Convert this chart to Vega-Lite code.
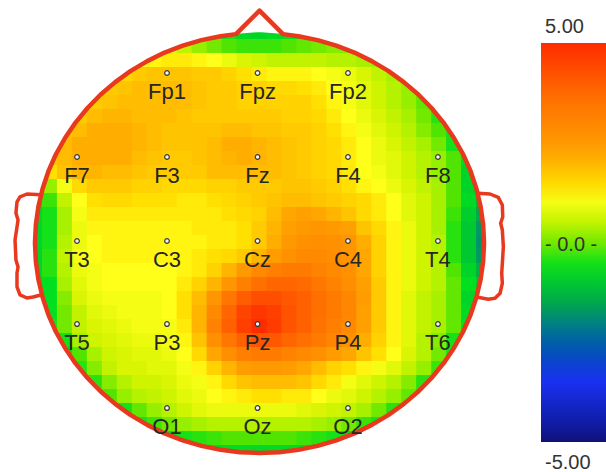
{
"$schema": "https://vega.github.io/schema/vega-lite/v6.json",
"width": 606, "height": 472, "padding": 0, "autosize": {"type": "none"},
"background": "white",
"config": {"view": {"stroke": null}},
"datasets": {
"cells": [
{"x":-3,"y":15,"v":-0.3},{"x":-2,"y":15,"v":-0.5},{"x":-1,"y":15,"v":-0.7},{"x":0,"y":15,"v":-0.8},{"x":1,"y":15,"v":-0.7},{"x":2,"y":15,"v":-0.6},{"x":3,"y":15,"v":-0.5},
{"x":-6,"y":14,"v":0.8},{"x":-5,"y":14,"v":0.5},{"x":-4,"y":14,"v":0.2},{"x":-3,"y":14,"v":0.0},{"x":-2,"y":14,"v":-0.2},{"x":-1,"y":14,"v":-0.3},{"x":0,"y":14,"v":-0.3},{"x":1,"y":14,"v":-0.3},{"x":2,"y":14,"v":-0.2},{"x":3,"y":14,"v":-0.1},{"x":4,"y":14,"v":0.0},{"x":5,"y":14,"v":0.1},{"x":6,"y":14,"v":0.1},
{"x":-8,"y":13,"v":1.0},{"x":-7,"y":13,"v":1.2},{"x":-6,"y":13,"v":1.3},{"x":-5,"y":13,"v":1.3},{"x":-4,"y":13,"v":1.2},{"x":-3,"y":13,"v":1.1},{"x":-2,"y":13,"v":0.9},{"x":-1,"y":13,"v":0.7},{"x":0,"y":13,"v":0.6},{"x":1,"y":13,"v":0.5},{"x":2,"y":13,"v":0.5},{"x":3,"y":13,"v":0.5},{"x":4,"y":13,"v":0.5},{"x":5,"y":13,"v":0.4},{"x":6,"y":13,"v":0.4},{"x":7,"y":13,"v":0.3},{"x":8,"y":13,"v":0.2},
{"x":-9,"y":12,"v":1.5},{"x":-8,"y":12,"v":1.7},{"x":-7,"y":12,"v":1.8},{"x":-6,"y":12,"v":1.8},{"x":-5,"y":12,"v":1.8},{"x":-4,"y":12,"v":1.7},{"x":-3,"y":12,"v":1.7},{"x":-2,"y":12,"v":1.6},{"x":-1,"y":12,"v":1.4},{"x":0,"y":12,"v":1.3},{"x":1,"y":12,"v":1.2},{"x":2,"y":12,"v":1.2},{"x":3,"y":12,"v":1.2},{"x":4,"y":12,"v":1.1},{"x":5,"y":12,"v":1.0},{"x":6,"y":12,"v":0.9},{"x":7,"y":12,"v":0.7},{"x":8,"y":12,"v":0.5},{"x":9,"y":12,"v":0.3},
{"x":-11,"y":11,"v":1.5},{"x":-10,"y":11,"v":1.7},{"x":-9,"y":11,"v":1.8},{"x":-8,"y":11,"v":1.9},{"x":-7,"y":11,"v":1.9},{"x":-6,"y":11,"v":1.9},{"x":-5,"y":11,"v":1.9},{"x":-4,"y":11,"v":1.8},{"x":-3,"y":11,"v":1.7},{"x":-2,"y":11,"v":1.7},{"x":-1,"y":11,"v":1.6},{"x":0,"y":11,"v":1.6},{"x":1,"y":11,"v":1.5},{"x":2,"y":11,"v":1.5},{"x":3,"y":11,"v":1.4},{"x":4,"y":11,"v":1.3},{"x":5,"y":11,"v":1.1},{"x":6,"y":11,"v":1.0},{"x":7,"y":11,"v":0.8},{"x":8,"y":11,"v":0.6},{"x":9,"y":11,"v":0.4},{"x":10,"y":11,"v":0.2},{"x":11,"y":11,"v":0.0},
{"x":-11,"y":10,"v":1.7},{"x":-10,"y":10,"v":1.8},{"x":-9,"y":10,"v":1.9},{"x":-8,"y":10,"v":1.9},{"x":-7,"y":10,"v":1.9},{"x":-6,"y":10,"v":1.9},{"x":-5,"y":10,"v":1.9},{"x":-4,"y":10,"v":1.8},{"x":-3,"y":10,"v":1.7},{"x":-2,"y":10,"v":1.7},{"x":-1,"y":10,"v":1.6},{"x":0,"y":10,"v":1.6},{"x":1,"y":10,"v":1.6},{"x":2,"y":10,"v":1.6},{"x":3,"y":10,"v":1.6},{"x":4,"y":10,"v":1.4},{"x":5,"y":10,"v":1.2},{"x":6,"y":10,"v":1.0},{"x":7,"y":10,"v":0.8},{"x":8,"y":10,"v":0.6},{"x":9,"y":10,"v":0.4},{"x":10,"y":10,"v":0.2},{"x":11,"y":10,"v":-0.1},
{"x":-12,"y":9,"v":1.7},{"x":-11,"y":9,"v":1.9},{"x":-10,"y":9,"v":2.0},{"x":-9,"y":9,"v":2.0},{"x":-8,"y":9,"v":1.9},{"x":-7,"y":9,"v":1.9},{"x":-6,"y":9,"v":1.9},{"x":-5,"y":9,"v":1.8},{"x":-4,"y":9,"v":1.7},{"x":-3,"y":9,"v":1.7},{"x":-2,"y":9,"v":1.7},{"x":-1,"y":9,"v":1.7},{"x":0,"y":9,"v":1.7},{"x":1,"y":9,"v":1.7},{"x":2,"y":9,"v":1.6},{"x":3,"y":9,"v":1.6},{"x":4,"y":9,"v":1.5},{"x":5,"y":9,"v":1.3},{"x":6,"y":9,"v":1.1},{"x":7,"y":9,"v":0.9},{"x":8,"y":9,"v":0.7},{"x":9,"y":9,"v":0.5},{"x":10,"y":9,"v":0.3},{"x":11,"y":9,"v":0.0},{"x":12,"y":9,"v":-0.4},
{"x":-13,"y":8,"v":1.8},{"x":-12,"y":8,"v":1.9},{"x":-11,"y":8,"v":2.1},{"x":-10,"y":8,"v":2.1},{"x":-9,"y":8,"v":2.1},{"x":-8,"y":8,"v":2.0},{"x":-7,"y":8,"v":1.9},{"x":-6,"y":8,"v":1.8},{"x":-5,"y":8,"v":1.8},{"x":-4,"y":8,"v":1.8},{"x":-3,"y":8,"v":1.8},{"x":-2,"y":8,"v":1.9},{"x":-1,"y":8,"v":1.9},{"x":0,"y":8,"v":1.8},{"x":1,"y":8,"v":1.8},{"x":2,"y":8,"v":1.7},{"x":3,"y":8,"v":1.7},{"x":4,"y":8,"v":1.6},{"x":5,"y":8,"v":1.4},{"x":6,"y":8,"v":1.2},{"x":7,"y":8,"v":1.0},{"x":8,"y":8,"v":0.8},{"x":9,"y":8,"v":0.6},{"x":10,"y":8,"v":0.4},{"x":11,"y":8,"v":0.1},{"x":12,"y":8,"v":-0.2},{"x":13,"y":8,"v":-0.5},
{"x":-13,"y":7,"v":1.9},{"x":-12,"y":7,"v":2.1},{"x":-11,"y":7,"v":2.1},{"x":-10,"y":7,"v":2.1},{"x":-9,"y":7,"v":2.1},{"x":-8,"y":7,"v":2.0},{"x":-7,"y":7,"v":1.9},{"x":-6,"y":7,"v":1.8},{"x":-5,"y":7,"v":1.8},{"x":-4,"y":7,"v":1.8},{"x":-3,"y":7,"v":1.9},{"x":-2,"y":7,"v":2.1},{"x":-1,"y":7,"v":2.1},{"x":0,"y":7,"v":2.0},{"x":1,"y":7,"v":1.9},{"x":2,"y":7,"v":1.8},{"x":3,"y":7,"v":1.7},{"x":4,"y":7,"v":1.6},{"x":5,"y":7,"v":1.5},{"x":6,"y":7,"v":1.3},{"x":7,"y":7,"v":1.1},{"x":8,"y":7,"v":0.9},{"x":9,"y":7,"v":0.7},{"x":10,"y":7,"v":0.5},{"x":11,"y":7,"v":0.3},{"x":12,"y":7,"v":0.0},{"x":13,"y":7,"v":-0.5},
{"x":-14,"y":6,"v":1.7},{"x":-13,"y":6,"v":1.9},{"x":-12,"y":6,"v":2.1},{"x":-11,"y":6,"v":2.1},{"x":-10,"y":6,"v":2.1},{"x":-9,"y":6,"v":2.1},{"x":-8,"y":6,"v":1.9},{"x":-7,"y":6,"v":1.8},{"x":-6,"y":6,"v":1.7},{"x":-5,"y":6,"v":1.7},{"x":-4,"y":6,"v":1.8},{"x":-3,"y":6,"v":1.9},{"x":-2,"y":6,"v":2.0},{"x":-1,"y":6,"v":2.1},{"x":0,"y":6,"v":2.0},{"x":1,"y":6,"v":1.9},{"x":2,"y":6,"v":1.8},{"x":3,"y":6,"v":1.7},{"x":4,"y":6,"v":1.6},{"x":5,"y":6,"v":1.5},{"x":6,"y":6,"v":1.3},{"x":7,"y":6,"v":1.1},{"x":8,"y":6,"v":0.9},{"x":9,"y":6,"v":0.8},{"x":10,"y":6,"v":0.6},{"x":11,"y":6,"v":0.4},{"x":12,"y":6,"v":0.2},{"x":13,"y":6,"v":-0.2},{"x":14,"y":6,"v":-0.7},
{"x":-14,"y":5,"v":1.4},{"x":-13,"y":5,"v":1.8},{"x":-12,"y":5,"v":2.0},{"x":-11,"y":5,"v":2.0},{"x":-10,"y":5,"v":1.9},{"x":-9,"y":5,"v":1.9},{"x":-8,"y":5,"v":1.8},{"x":-7,"y":5,"v":1.7},{"x":-6,"y":5,"v":1.7},{"x":-5,"y":5,"v":1.7},{"x":-4,"y":5,"v":1.7},{"x":-3,"y":5,"v":1.9},{"x":-2,"y":5,"v":1.9},{"x":-1,"y":5,"v":1.9},{"x":0,"y":5,"v":1.9},{"x":1,"y":5,"v":1.9},{"x":2,"y":5,"v":1.8},{"x":3,"y":5,"v":1.7},{"x":4,"y":5,"v":1.6},{"x":5,"y":5,"v":1.5},{"x":6,"y":5,"v":1.3},{"x":7,"y":5,"v":1.1},{"x":8,"y":5,"v":1.0},{"x":9,"y":5,"v":0.8},{"x":10,"y":5,"v":0.6},{"x":11,"y":5,"v":0.4},{"x":12,"y":5,"v":0.2},{"x":13,"y":5,"v":-0.2},{"x":14,"y":5,"v":-0.8},
{"x":-14,"y":4,"v":0.2},{"x":-13,"y":4,"v":1.0},{"x":-12,"y":4,"v":1.5},{"x":-11,"y":4,"v":1.7},{"x":-10,"y":4,"v":1.7},{"x":-9,"y":4,"v":1.7},{"x":-8,"y":4,"v":1.6},{"x":-7,"y":4,"v":1.6},{"x":-6,"y":4,"v":1.5},{"x":-5,"y":4,"v":1.5},{"x":-4,"y":4,"v":1.5},{"x":-3,"y":4,"v":1.6},{"x":-2,"y":4,"v":1.6},{"x":-1,"y":4,"v":1.7},{"x":0,"y":4,"v":1.7},{"x":1,"y":4,"v":1.7},{"x":2,"y":4,"v":1.8},{"x":3,"y":4,"v":1.8},{"x":4,"y":4,"v":1.7},{"x":5,"y":4,"v":1.6},{"x":6,"y":4,"v":1.4},{"x":7,"y":4,"v":1.2},{"x":8,"y":4,"v":1.1},{"x":9,"y":4,"v":0.9},{"x":10,"y":4,"v":0.7},{"x":11,"y":4,"v":0.5},{"x":12,"y":4,"v":0.3},{"x":13,"y":4,"v":-0.2},{"x":14,"y":4,"v":-0.8},
{"x":-15,"y":3,"v":-0.7},{"x":-14,"y":3,"v":-0.3},{"x":-13,"y":3,"v":0.5},{"x":-12,"y":3,"v":1.1},{"x":-11,"y":3,"v":1.4},{"x":-10,"y":3,"v":1.5},{"x":-9,"y":3,"v":1.5},{"x":-8,"y":3,"v":1.4},{"x":-7,"y":3,"v":1.4},{"x":-6,"y":3,"v":1.4},{"x":-5,"y":3,"v":1.3},{"x":-4,"y":3,"v":1.3},{"x":-3,"y":3,"v":1.4},{"x":-2,"y":3,"v":1.5},{"x":-1,"y":3,"v":1.6},{"x":0,"y":3,"v":1.7},{"x":1,"y":3,"v":1.8},{"x":2,"y":3,"v":1.9},{"x":3,"y":3,"v":1.9},{"x":4,"y":3,"v":1.8},{"x":5,"y":3,"v":1.7},{"x":6,"y":3,"v":1.6},{"x":7,"y":3,"v":1.5},{"x":8,"y":3,"v":1.3},{"x":9,"y":3,"v":1.1},{"x":10,"y":3,"v":0.8},{"x":11,"y":3,"v":0.6},{"x":12,"y":3,"v":0.3},{"x":13,"y":3,"v":-0.2},{"x":14,"y":3,"v":-0.7},{"x":15,"y":3,"v":-1.3},
{"x":-15,"y":2,"v":-0.8},{"x":-14,"y":2,"v":-0.5},{"x":-13,"y":2,"v":0.3},{"x":-12,"y":2,"v":1.0},{"x":-11,"y":2,"v":1.3},{"x":-10,"y":2,"v":1.3},{"x":-9,"y":2,"v":1.3},{"x":-8,"y":2,"v":1.3},{"x":-7,"y":2,"v":1.3},{"x":-6,"y":2,"v":1.3},{"x":-5,"y":2,"v":1.3},{"x":-4,"y":2,"v":1.3},{"x":-3,"y":2,"v":1.3},{"x":-2,"y":2,"v":1.4},{"x":-1,"y":2,"v":1.5},{"x":0,"y":2,"v":1.6},{"x":1,"y":2,"v":1.9},{"x":2,"y":2,"v":2.2},{"x":3,"y":2,"v":2.3},{"x":4,"y":2,"v":2.2},{"x":5,"y":2,"v":2.0},{"x":6,"y":2,"v":1.8},{"x":7,"y":2,"v":1.5},{"x":8,"y":2,"v":1.3},{"x":9,"y":2,"v":1.1},{"x":10,"y":2,"v":0.8},{"x":11,"y":2,"v":0.6},{"x":12,"y":2,"v":0.3},{"x":13,"y":2,"v":-0.3},{"x":14,"y":2,"v":-0.9},{"x":15,"y":2,"v":-1.5},
{"x":-15,"y":1,"v":-0.8},{"x":-14,"y":1,"v":-0.5},{"x":-13,"y":1,"v":0.3},{"x":-12,"y":1,"v":0.9},{"x":-11,"y":1,"v":1.2},{"x":-10,"y":1,"v":1.2},{"x":-9,"y":1,"v":1.2},{"x":-8,"y":1,"v":1.2},{"x":-7,"y":1,"v":1.2},{"x":-6,"y":1,"v":1.2},{"x":-5,"y":1,"v":1.2},{"x":-4,"y":1,"v":1.3},{"x":-3,"y":1,"v":1.3},{"x":-2,"y":1,"v":1.3},{"x":-1,"y":1,"v":1.4},{"x":0,"y":1,"v":1.7},{"x":1,"y":1,"v":2.0},{"x":2,"y":1,"v":2.3},{"x":3,"y":1,"v":2.5},{"x":4,"y":1,"v":2.6},{"x":5,"y":1,"v":2.5},{"x":6,"y":1,"v":2.3},{"x":7,"y":1,"v":1.8},{"x":8,"y":1,"v":1.5},{"x":9,"y":1,"v":1.2},{"x":10,"y":1,"v":0.9},{"x":11,"y":1,"v":0.6},{"x":12,"y":1,"v":0.3},{"x":13,"y":1,"v":-0.4},{"x":14,"y":1,"v":-1.0},{"x":15,"y":1,"v":-1.7},
{"x":-15,"y":0,"v":-0.8},{"x":-14,"y":0,"v":-0.5},{"x":-13,"y":0,"v":0.4},{"x":-12,"y":0,"v":0.9},{"x":-11,"y":0,"v":1.1},{"x":-10,"y":0,"v":1.2},{"x":-9,"y":0,"v":1.2},{"x":-8,"y":0,"v":1.2},{"x":-7,"y":0,"v":1.2},{"x":-6,"y":0,"v":1.2},{"x":-5,"y":0,"v":1.2},{"x":-4,"y":0,"v":1.2},{"x":-3,"y":0,"v":1.3},{"x":-2,"y":0,"v":1.3},{"x":-1,"y":0,"v":1.4},{"x":0,"y":0,"v":1.7},{"x":1,"y":0,"v":2.1},{"x":2,"y":0,"v":2.5},{"x":3,"y":0,"v":2.7},{"x":4,"y":0,"v":2.8},{"x":5,"y":0,"v":2.7},{"x":6,"y":0,"v":2.6},{"x":7,"y":0,"v":2.1},{"x":8,"y":0,"v":1.6},{"x":9,"y":0,"v":1.2},{"x":10,"y":0,"v":0.9},{"x":11,"y":0,"v":0.6},{"x":12,"y":0,"v":0.4},{"x":13,"y":0,"v":-0.4},{"x":14,"y":0,"v":-1.0},{"x":15,"y":0,"v":-1.8},
{"x":-15,"y":-1,"v":-0.8},{"x":-14,"y":-1,"v":-0.4},{"x":-13,"y":-1,"v":0.5},{"x":-12,"y":-1,"v":1.0},{"x":-11,"y":-1,"v":1.1},{"x":-10,"y":-1,"v":1.2},{"x":-9,"y":-1,"v":1.2},{"x":-8,"y":-1,"v":1.2},{"x":-7,"y":-1,"v":1.2},{"x":-6,"y":-1,"v":1.2},{"x":-5,"y":-1,"v":1.2},{"x":-4,"y":-1,"v":1.3},{"x":-3,"y":-1,"v":1.4},{"x":-2,"y":-1,"v":1.5},{"x":-1,"y":-1,"v":1.7},{"x":0,"y":-1,"v":2.0},{"x":1,"y":-1,"v":2.4},{"x":2,"y":-1,"v":2.7},{"x":3,"y":-1,"v":2.9},{"x":4,"y":-1,"v":2.9},{"x":5,"y":-1,"v":2.8},{"x":6,"y":-1,"v":2.6},{"x":7,"y":-1,"v":2.2},{"x":8,"y":-1,"v":1.6},{"x":9,"y":-1,"v":1.2},{"x":10,"y":-1,"v":0.9},{"x":11,"y":-1,"v":0.6},{"x":12,"y":-1,"v":0.4},{"x":13,"y":-1,"v":-0.4},{"x":14,"y":-1,"v":-1.0},{"x":15,"y":-1,"v":-1.7},
{"x":-15,"y":-2,"v":-0.8},{"x":-14,"y":-2,"v":-0.4},{"x":-13,"y":-2,"v":0.4},{"x":-12,"y":-2,"v":0.9},{"x":-11,"y":-2,"v":1.0},{"x":-10,"y":-2,"v":1.1},{"x":-9,"y":-2,"v":1.1},{"x":-8,"y":-2,"v":1.1},{"x":-7,"y":-2,"v":1.1},{"x":-6,"y":-2,"v":1.1},{"x":-5,"y":-2,"v":1.2},{"x":-4,"y":-2,"v":1.3},{"x":-3,"y":-2,"v":1.6},{"x":-2,"y":-2,"v":2.0},{"x":-1,"y":-2,"v":2.5},{"x":0,"y":-2,"v":2.9},{"x":1,"y":-2,"v":3.2},{"x":2,"y":-2,"v":3.3},{"x":3,"y":-2,"v":3.3},{"x":4,"y":-2,"v":3.1},{"x":5,"y":-2,"v":2.9},{"x":6,"y":-2,"v":2.7},{"x":7,"y":-2,"v":2.2},{"x":8,"y":-2,"v":1.6},{"x":9,"y":-2,"v":1.2},{"x":10,"y":-2,"v":0.9},{"x":11,"y":-2,"v":0.6},{"x":12,"y":-2,"v":0.4},{"x":13,"y":-2,"v":-0.2},{"x":14,"y":-2,"v":-0.8},{"x":15,"y":-2,"v":-1.4},
{"x":-15,"y":-3,"v":-0.8},{"x":-14,"y":-3,"v":-0.6},{"x":-13,"y":-3,"v":0.3},{"x":-12,"y":-3,"v":0.8},{"x":-11,"y":-3,"v":1.0},{"x":-10,"y":-3,"v":1.1},{"x":-9,"y":-3,"v":1.1},{"x":-8,"y":-3,"v":1.1},{"x":-7,"y":-3,"v":1.1},{"x":-6,"y":-3,"v":1.1},{"x":-5,"y":-3,"v":1.3},{"x":-4,"y":-3,"v":1.6},{"x":-3,"y":-3,"v":2.0},{"x":-2,"y":-3,"v":2.6},{"x":-1,"y":-3,"v":3.2},{"x":0,"y":-3,"v":3.6},{"x":1,"y":-3,"v":3.8},{"x":2,"y":-3,"v":3.8},{"x":3,"y":-3,"v":3.7},{"x":4,"y":-3,"v":3.4},{"x":5,"y":-3,"v":3.1},{"x":6,"y":-3,"v":2.8},{"x":7,"y":-3,"v":2.3},{"x":8,"y":-3,"v":1.7},{"x":9,"y":-3,"v":1.2},{"x":10,"y":-3,"v":0.9},{"x":11,"y":-3,"v":0.6},{"x":12,"y":-3,"v":0.4},{"x":13,"y":-3,"v":-0.1},{"x":14,"y":-3,"v":-0.6},{"x":15,"y":-3,"v":-1.1},
{"x":-14,"y":-4,"v":-0.6},{"x":-13,"y":-4,"v":0.1},{"x":-12,"y":-4,"v":0.7},{"x":-11,"y":-4,"v":0.9},{"x":-10,"y":-4,"v":1.0},{"x":-9,"y":-4,"v":1.0},{"x":-8,"y":-4,"v":1.0},{"x":-7,"y":-4,"v":1.0},{"x":-6,"y":-4,"v":1.1},{"x":-5,"y":-4,"v":1.4},{"x":-4,"y":-4,"v":1.9},{"x":-3,"y":-4,"v":2.6},{"x":-2,"y":-4,"v":3.4},{"x":-1,"y":-4,"v":4.0},{"x":0,"y":-4,"v":4.3},{"x":1,"y":-4,"v":4.3},{"x":2,"y":-4,"v":4.1},{"x":3,"y":-4,"v":3.9},{"x":4,"y":-4,"v":3.6},{"x":5,"y":-4,"v":3.3},{"x":6,"y":-4,"v":3.0},{"x":7,"y":-4,"v":2.4},{"x":8,"y":-4,"v":1.7},{"x":9,"y":-4,"v":1.2},{"x":10,"y":-4,"v":0.8},{"x":11,"y":-4,"v":0.5},{"x":12,"y":-4,"v":0.3},{"x":13,"y":-4,"v":-0.1},{"x":14,"y":-4,"v":-0.8},
{"x":-14,"y":-5,"v":-0.6},{"x":-13,"y":-5,"v":0.0},{"x":-12,"y":-5,"v":0.5},{"x":-11,"y":-5,"v":0.8},{"x":-10,"y":-5,"v":0.9},{"x":-9,"y":-5,"v":1.0},{"x":-8,"y":-5,"v":1.0},{"x":-7,"y":-5,"v":1.0},{"x":-6,"y":-5,"v":1.1},{"x":-5,"y":-5,"v":1.4},{"x":-4,"y":-5,"v":2.0},{"x":-3,"y":-5,"v":2.9},{"x":-2,"y":-5,"v":3.8},{"x":-1,"y":-5,"v":4.5},{"x":0,"y":-5,"v":4.8},{"x":1,"y":-5,"v":4.6},{"x":2,"y":-5,"v":4.2},{"x":3,"y":-5,"v":3.9},{"x":4,"y":-5,"v":3.6},{"x":5,"y":-5,"v":3.3},{"x":6,"y":-5,"v":3.0},{"x":7,"y":-5,"v":2.3},{"x":8,"y":-5,"v":1.7},{"x":9,"y":-5,"v":1.2},{"x":10,"y":-5,"v":0.8},{"x":11,"y":-5,"v":0.5},{"x":12,"y":-5,"v":0.3},{"x":13,"y":-5,"v":-0.1},{"x":14,"y":-5,"v":-0.7},
{"x":-14,"y":-6,"v":-0.5},{"x":-13,"y":-6,"v":0.0},{"x":-12,"y":-6,"v":0.5},{"x":-11,"y":-6,"v":0.7},{"x":-10,"y":-6,"v":0.8},{"x":-9,"y":-6,"v":0.9},{"x":-8,"y":-6,"v":1.0},{"x":-7,"y":-6,"v":1.0},{"x":-6,"y":-6,"v":1.0},{"x":-5,"y":-6,"v":1.3},{"x":-4,"y":-6,"v":2.0},{"x":-3,"y":-6,"v":3.1},{"x":-2,"y":-6,"v":3.9},{"x":-1,"y":-6,"v":4.6},{"x":0,"y":-6,"v":5.0},{"x":1,"y":-6,"v":4.7},{"x":2,"y":-6,"v":4.2},{"x":3,"y":-6,"v":3.9},{"x":4,"y":-6,"v":3.5},{"x":5,"y":-6,"v":3.2},{"x":6,"y":-6,"v":2.9},{"x":7,"y":-6,"v":2.3},{"x":8,"y":-6,"v":1.7},{"x":9,"y":-6,"v":1.2},{"x":10,"y":-6,"v":0.8},{"x":11,"y":-6,"v":0.5},{"x":12,"y":-6,"v":0.3},{"x":13,"y":-6,"v":-0.1},{"x":14,"y":-6,"v":-0.6},
{"x":-13,"y":-7,"v":-0.5},{"x":-12,"y":-7,"v":0.3},{"x":-11,"y":-7,"v":0.6},{"x":-10,"y":-7,"v":0.7},{"x":-9,"y":-7,"v":0.8},{"x":-8,"y":-7,"v":0.9},{"x":-7,"y":-7,"v":0.9},{"x":-6,"y":-7,"v":1.0},{"x":-5,"y":-7,"v":1.2},{"x":-4,"y":-7,"v":1.8},{"x":-3,"y":-7,"v":2.7},{"x":-2,"y":-7,"v":3.4},{"x":-1,"y":-7,"v":3.9},{"x":0,"y":-7,"v":4.2},{"x":1,"y":-7,"v":4.1},{"x":2,"y":-7,"v":3.8},{"x":3,"y":-7,"v":3.6},{"x":4,"y":-7,"v":3.3},{"x":5,"y":-7,"v":3.0},{"x":6,"y":-7,"v":2.7},{"x":7,"y":-7,"v":2.1},{"x":8,"y":-7,"v":1.6},{"x":9,"y":-7,"v":1.2},{"x":10,"y":-7,"v":0.8},{"x":11,"y":-7,"v":0.4},{"x":12,"y":-7,"v":0.1},{"x":13,"y":-7,"v":-0.5},
{"x":-13,"y":-8,"v":-0.6},{"x":-12,"y":-8,"v":-0.2},{"x":-11,"y":-8,"v":0.3},{"x":-10,"y":-8,"v":0.6},{"x":-9,"y":-8,"v":0.7},{"x":-8,"y":-8,"v":0.8},{"x":-7,"y":-8,"v":0.8},{"x":-6,"y":-8,"v":0.9},{"x":-5,"y":-8,"v":1.1},{"x":-4,"y":-8,"v":1.5},{"x":-3,"y":-8,"v":2.2},{"x":-2,"y":-8,"v":2.8},{"x":-1,"y":-8,"v":3.2},{"x":0,"y":-8,"v":3.3},{"x":1,"y":-8,"v":3.3},{"x":2,"y":-8,"v":3.1},{"x":3,"y":-8,"v":2.9},{"x":4,"y":-8,"v":2.7},{"x":5,"y":-8,"v":2.4},{"x":6,"y":-8,"v":2.2},{"x":7,"y":-8,"v":1.8},{"x":8,"y":-8,"v":1.4},{"x":9,"y":-8,"v":1.1},{"x":10,"y":-8,"v":0.7},{"x":11,"y":-8,"v":0.4},{"x":12,"y":-8,"v":0.0},{"x":13,"y":-8,"v":-0.5},
{"x":-12,"y":-9,"v":-0.4},{"x":-11,"y":-9,"v":0.1},{"x":-10,"y":-9,"v":0.5},{"x":-9,"y":-9,"v":0.7},{"x":-8,"y":-9,"v":0.7},{"x":-7,"y":-9,"v":0.8},{"x":-6,"y":-9,"v":0.8},{"x":-5,"y":-9,"v":1.0},{"x":-4,"y":-9,"v":1.2},{"x":-3,"y":-9,"v":1.6},{"x":-2,"y":-9,"v":2.0},{"x":-1,"y":-9,"v":2.4},{"x":0,"y":-9,"v":2.5},{"x":1,"y":-9,"v":2.5},{"x":2,"y":-9,"v":2.4},{"x":3,"y":-9,"v":2.2},{"x":4,"y":-9,"v":1.9},{"x":5,"y":-9,"v":1.6},{"x":6,"y":-9,"v":1.4},{"x":7,"y":-9,"v":1.2},{"x":8,"y":-9,"v":1.0},{"x":9,"y":-9,"v":0.8},{"x":10,"y":-9,"v":0.5},{"x":11,"y":-9,"v":0.2},{"x":12,"y":-9,"v":-0.3},
{"x":-11,"y":-10,"v":-0.4},{"x":-10,"y":-10,"v":0.1},{"x":-9,"y":-10,"v":0.4},{"x":-8,"y":-10,"v":0.6},{"x":-7,"y":-10,"v":0.6},{"x":-6,"y":-10,"v":0.7},{"x":-5,"y":-10,"v":0.9},{"x":-4,"y":-10,"v":1.0},{"x":-3,"y":-10,"v":1.2},{"x":-2,"y":-10,"v":1.5},{"x":-1,"y":-10,"v":1.8},{"x":0,"y":-10,"v":1.9},{"x":1,"y":-10,"v":1.9},{"x":2,"y":-10,"v":1.9},{"x":3,"y":-10,"v":1.8},{"x":4,"y":-10,"v":1.5},{"x":5,"y":-10,"v":1.3},{"x":6,"y":-10,"v":1.0},{"x":7,"y":-10,"v":0.8},{"x":8,"y":-10,"v":0.6},{"x":9,"y":-10,"v":0.4},{"x":10,"y":-10,"v":0.1},{"x":11,"y":-10,"v":-0.4},
{"x":-11,"y":-11,"v":-0.6},{"x":-10,"y":-11,"v":-0.2},{"x":-9,"y":-11,"v":0.2},{"x":-8,"y":-11,"v":0.4},{"x":-7,"y":-11,"v":0.5},{"x":-6,"y":-11,"v":0.6},{"x":-5,"y":-11,"v":0.8},{"x":-4,"y":-11,"v":0.9},{"x":-3,"y":-11,"v":1.1},{"x":-2,"y":-11,"v":1.2},{"x":-1,"y":-11,"v":1.3},{"x":0,"y":-11,"v":1.4},{"x":1,"y":-11,"v":1.4},{"x":2,"y":-11,"v":1.3},{"x":3,"y":-11,"v":1.3},{"x":4,"y":-11,"v":1.1},{"x":5,"y":-11,"v":0.9},{"x":6,"y":-11,"v":0.8},{"x":7,"y":-11,"v":0.6},{"x":8,"y":-11,"v":0.4},{"x":9,"y":-11,"v":0.2},{"x":10,"y":-11,"v":-0.1},{"x":11,"y":-11,"v":-0.5},
{"x":-9,"y":-12,"v":-0.5},{"x":-8,"y":-12,"v":-0.1},{"x":-7,"y":-12,"v":0.2},{"x":-6,"y":-12,"v":0.4},{"x":-5,"y":-12,"v":0.6},{"x":-4,"y":-12,"v":0.8},{"x":-3,"y":-12,"v":0.9},{"x":-2,"y":-12,"v":0.9},{"x":-1,"y":-12,"v":0.9},{"x":0,"y":-12,"v":0.9},{"x":1,"y":-12,"v":0.9},{"x":2,"y":-12,"v":0.9},{"x":3,"y":-12,"v":0.8},{"x":4,"y":-12,"v":0.7},{"x":5,"y":-12,"v":0.6},{"x":6,"y":-12,"v":0.5},{"x":7,"y":-12,"v":0.3},{"x":8,"y":-12,"v":0.0},{"x":9,"y":-12,"v":-0.4},
{"x":-8,"y":-13,"v":-0.5},{"x":-7,"y":-13,"v":-0.3},{"x":-6,"y":-13,"v":0.0},{"x":-5,"y":-13,"v":0.2},{"x":-4,"y":-13,"v":0.3},{"x":-3,"y":-13,"v":0.4},{"x":-2,"y":-13,"v":0.4},{"x":-1,"y":-13,"v":0.4},{"x":0,"y":-13,"v":0.4},{"x":1,"y":-13,"v":0.4},{"x":2,"y":-13,"v":0.4},{"x":3,"y":-13,"v":0.4},{"x":4,"y":-13,"v":0.3},{"x":5,"y":-13,"v":0.2},{"x":6,"y":-13,"v":0.0},{"x":7,"y":-13,"v":-0.3},{"x":8,"y":-13,"v":-0.5},
{"x":-6,"y":-14,"v":-0.6},{"x":-5,"y":-14,"v":-0.5},{"x":-4,"y":-14,"v":-0.4},{"x":-3,"y":-14,"v":-0.3},{"x":-2,"y":-14,"v":-0.2},{"x":-1,"y":-14,"v":-0.2},{"x":0,"y":-14,"v":-0.2},{"x":1,"y":-14,"v":-0.2},{"x":2,"y":-14,"v":-0.2},{"x":3,"y":-14,"v":-0.3},{"x":4,"y":-14,"v":-0.4},{"x":5,"y":-14,"v":-0.5},{"x":6,"y":-14,"v":-0.6},
{"x":-3,"y":-15,"v":-0.7},{"x":-2,"y":-15,"v":-0.7},{"x":-1,"y":-15,"v":-0.7},{"x":0,"y":-15,"v":-0.7},{"x":1,"y":-15,"v":-0.7},{"x":2,"y":-15,"v":-0.7},{"x":3,"y":-15,"v":-0.7}
],
"mask": [
{"i":0,"x":15.75,"y":0},{"i":1,"x":15.51,"y":2.73},{"i":2,"x":14.8,"y":5.39},{"i":3,"x":13.64,"y":7.88},{"i":4,"x":12.07,"y":10.12},{"i":5,"x":10.12,"y":12.07},{"i":6,"x":7.88,"y":13.64},{"i":7,"x":5.39,"y":14.8},{"i":8,"x":2.73,"y":15.51},{"i":9,"x":0,"y":15.75},{"i":10,"x":-2.73,"y":15.51},{"i":11,"x":-5.39,"y":14.8},{"i":12,"x":-7.88,"y":13.64},{"i":13,"x":-10.12,"y":12.07},{"i":14,"x":-12.07,"y":10.12},{"i":15,"x":-13.64,"y":7.88},{"i":16,"x":-14.8,"y":5.39},{"i":17,"x":-15.51,"y":2.73},{"i":18,"x":-15.75,"y":0},{"i":19,"x":-15.51,"y":-2.73},{"i":20,"x":-14.8,"y":-5.39},{"i":21,"x":-13.64,"y":-7.88},{"i":22,"x":-12.07,"y":-10.12},{"i":23,"x":-10.12,"y":-12.07},{"i":24,"x":-7.88,"y":-13.64},{"i":25,"x":-5.39,"y":-14.8},{"i":26,"x":-2.73,"y":-15.51},{"i":27,"x":0,"y":-15.75},{"i":28,"x":2.73,"y":-15.51},{"i":29,"x":5.39,"y":-14.8},{"i":30,"x":7.88,"y":-13.64},{"i":31,"x":10.12,"y":-12.07},{"i":32,"x":12.07,"y":-10.12},{"i":33,"x":13.64,"y":-7.88},{"i":34,"x":14.8,"y":-5.39},{"i":35,"x":15.51,"y":-2.73},{"i":36,"x":15.75,"y":0}
],
"outline": [
{"i":0,"x":0,"y":16.6},{"i":1,"x":1.57,"y":14.92},{"i":2,"x":2.6,"y":14.77},{"i":3,"x":3.88,"y":14.49},{"i":4,"x":5.13,"y":14.1},{"i":5,"x":6.34,"y":13.6},{"i":6,"x":7.5,"y":12.99},{"i":7,"x":8.6,"y":12.29},{"i":8,"x":9.64,"y":11.49},{"i":9,"x":10.61,"y":10.61},{"i":10,"x":11.49,"y":9.64},{"i":11,"x":12.29,"y":8.6},{"i":12,"x":12.99,"y":7.5},{"i":13,"x":13.6,"y":6.34},{"i":14,"x":14.1,"y":5.13},{"i":15,"x":14.49,"y":3.88},{"i":16,"x":14.77,"y":2.6},{"i":17,"x":14.94,"y":1.31},{"i":18,"x":15,"y":0},{"i":19,"x":14.94,"y":-1.31},{"i":20,"x":14.77,"y":-2.6},{"i":21,"x":14.49,"y":-3.88},{"i":22,"x":14.1,"y":-5.13},{"i":23,"x":13.6,"y":-6.34},{"i":24,"x":12.99,"y":-7.5},{"i":25,"x":12.29,"y":-8.6},{"i":26,"x":11.49,"y":-9.64},{"i":27,"x":10.61,"y":-10.61},{"i":28,"x":9.64,"y":-11.49},{"i":29,"x":8.6,"y":-12.29},{"i":30,"x":7.5,"y":-12.99},{"i":31,"x":6.34,"y":-13.6},{"i":32,"x":5.13,"y":-14.1},{"i":33,"x":3.88,"y":-14.49},{"i":34,"x":2.6,"y":-14.77},{"i":35,"x":1.31,"y":-14.94},{"i":36,"x":0,"y":-15},{"i":37,"x":-1.31,"y":-14.94},{"i":38,"x":-2.6,"y":-14.77},{"i":39,"x":-3.88,"y":-14.49},{"i":40,"x":-5.13,"y":-14.1},{"i":41,"x":-6.34,"y":-13.6},{"i":42,"x":-7.5,"y":-12.99},{"i":43,"x":-8.6,"y":-12.29},{"i":44,"x":-9.64,"y":-11.49},{"i":45,"x":-10.61,"y":-10.61},{"i":46,"x":-11.49,"y":-9.64},{"i":47,"x":-12.29,"y":-8.6},{"i":48,"x":-12.99,"y":-7.5},{"i":49,"x":-13.6,"y":-6.34},{"i":50,"x":-14.1,"y":-5.13},{"i":51,"x":-14.49,"y":-3.88},{"i":52,"x":-14.77,"y":-2.6},{"i":53,"x":-14.94,"y":-1.31},{"i":54,"x":-15,"y":0},{"i":55,"x":-14.94,"y":1.31},{"i":56,"x":-14.77,"y":2.6},{"i":57,"x":-14.49,"y":3.88},{"i":58,"x":-14.1,"y":5.13},{"i":59,"x":-13.6,"y":6.34},{"i":60,"x":-12.99,"y":7.5},{"i":61,"x":-12.29,"y":8.6},{"i":62,"x":-11.49,"y":9.64},{"i":63,"x":-10.61,"y":10.61},{"i":64,"x":-9.64,"y":11.49},{"i":65,"x":-8.6,"y":12.29},{"i":66,"x":-7.5,"y":12.99},{"i":67,"x":-6.34,"y":13.6},{"i":68,"x":-5.13,"y":14.1},{"i":69,"x":-3.88,"y":14.49},{"i":70,"x":-2.6,"y":14.77},{"i":71,"x":-1.57,"y":14.92},{"i":72,"x":0,"y":16.6}
],
"ears": [
{"ear":"L","i":0,"x":-14.6,"y":3.45},{"ear":"L","i":1,"x":-15.53,"y":3.5},{"ear":"L","i":2,"x":-16.0,"y":3.29},{"ear":"L","i":3,"x":-16.2,"y":2.93},{"ear":"L","i":4,"x":-16.27,"y":2.14},{"ear":"L","i":5,"x":-16.13,"y":1.64},{"ear":"L","i":6,"x":-16.2,"y":1.14},{"ear":"L","i":7,"x":-16.33,"y":0.21},{"ear":"L","i":8,"x":-16.27,"y":-1.21},{"ear":"L","i":9,"x":-16.13,"y":-1.71},{"ear":"L","i":10,"x":-16.2,"y":-2.14},{"ear":"L","i":11,"x":-16.2,"y":-3.14},{"ear":"L","i":12,"x":-16.0,"y":-3.71},{"ear":"L","i":13,"x":-15.53,"y":-3.93},{"ear":"L","i":14,"x":-15.13,"y":-3.86},{"ear":"L","i":15,"x":-14.54,"y":-3.7},
{"ear":"R","i":0,"x":14.57,"y":3.55},{"ear":"R","i":1,"x":15.4,"y":3.5},{"ear":"R","i":2,"x":15.95,"y":3.26},{"ear":"R","i":3,"x":16.22,"y":2.71},{"ear":"R","i":4,"x":16.25,"y":1.88},{"ear":"R","i":5,"x":16.11,"y":1.41},{"ear":"R","i":6,"x":16.22,"y":0.93},{"ear":"R","i":7,"x":16.29,"y":-0.26},{"ear":"R","i":8,"x":16.22,"y":-1.45},{"ear":"R","i":9,"x":16.18,"y":-2.16},{"ear":"R","i":10,"x":16.22,"y":-2.88},{"ear":"R","i":11,"x":16.07,"y":-3.59},{"ear":"R","i":12,"x":15.73,"y":-3.95},{"ear":"R","i":13,"x":15.28,"y":-4.02},{"ear":"R","i":14,"x":14.5,"y":-3.86}
],
"electrodes": [
{"name":"Fp1","x":-6.18,"y":12.14},{"name":"Fpz","x":-0.13,"y":12.14},{"name":"Fp2","x":5.91,"y":12.14},
{"name":"F7","x":-12.19,"y":6.14},{"name":"F3","x":-6.18,"y":6.14},{"name":"Fz","x":-0.13,"y":6.14},{"name":"F4","x":5.91,"y":6.14},{"name":"F8","x":11.92,"y":6.14},
{"name":"T3","x":-12.19,"y":0.14},{"name":"C3","x":-6.18,"y":0.14},{"name":"Cz","x":-0.13,"y":0.14},{"name":"C4","x":5.91,"y":0.14},{"name":"T4","x":11.92,"y":0.14},
{"name":"T5","x":-12.19,"y":-5.79},{"name":"P3","x":-6.18,"y":-5.79},{"name":"Pz","x":-0.13,"y":-5.79},{"name":"P4","x":5.91,"y":-5.79},{"name":"T6","x":11.92,"y":-5.79},
{"name":"O1","x":-6.18,"y":-11.79},{"name":"Oz","x":-0.13,"y":-11.79},{"name":"O2","x":5.91,"y":-11.79}
]
},
"encoding": {
"x": {"field": "x", "type": "quantitative", "scale": {"domain": [-17.335, 23.146], "nice": false, "zero": false}, "axis": null},
"y": {"field": "y", "type": "quantitative", "scale": {"domain": [-16.357, 17.357], "nice": false, "zero": false}, "axis": null}
},
"layer": [
{"data": {"name": "cells"},
 "mark": {"type": "square", "size": 256, "opacity": 1, "strokeWidth": 0},
 "encoding": {
  "color": {"field": "v", "type": "quantitative",
   "scale": {"domain": [-5, -4.4, -3.5, -2.7, -1.9, -1.4, -0.6, -0.2, 0.25, 0.65, 1.1, 1.4, 2.3, 3.6, 5],
             "range": ["#10107a", "#1020b0", "#1a30f0", "#0050b8", "#008a78", "#00b040", "#00e020", "#50e400", "#a0f000", "#d4f400", "#ffff1a", "#ffe000", "#ffa000", "#ff7000", "#ff2c00"],
             "interpolate": "rgb"},
   "legend": {"type": "gradient", "orient": "none", "legendX": 541, "legendY": 43, "direction": "vertical",
     "gradientLength": 399, "gradientThickness": 75, "gradientStrokeWidth": 0,
     "title": null, "values": [0], "labelExpr": "''", "labelOpacity": 0, "labelFontSize": 1, "padding": 0}},
  "stroke": {"field": "v", "type": "quantitative",
   "scale": {"domain": [-5, 5], "range": ["#ffffff", "#ffffff"]},
   "legend": {"type": "gradient", "orient": "none", "legendX": 541, "legendY": 17, "direction": "vertical",
     "gradientLength": 456, "gradientThickness": 0, "gradientOpacity": 0, "gradientStrokeWidth": 0,
     "title": null, "values": [5, 0, -5], "labelOverlap": false, "labelOffset": 4,
     "labelExpr": "datum.value > 4 ? '5.00' : datum.value < -4 ? '-5.00' : '- 0.0 -'",
     "labelFont": "Liberation Sans", "labelFontSize": 20, "labelColor": "#333333", "padding": 0}}
 }},
{"data": {"name": "mask"},
 "mark": {"type": "line", "stroke": "white", "strokeWidth": 19, "strokeCap": "round", "strokeJoin": "round"},
 "encoding": {"order": {"field": "i", "type": "quantitative"}}},
{"data": {"name": "outline"},
 "mark": {"type": "line", "stroke": "#e8391f", "strokeWidth": 4.5, "strokeJoin": "round", "strokeCap": "round"},
 "encoding": {"order": {"field": "i", "type": "quantitative"}}},
{"data": {"name": "ears"},
 "mark": {"type": "line", "stroke": "#e8391f", "strokeWidth": 3.5, "strokeJoin": "round", "strokeCap": "round"},
 "encoding": {"detail": {"field": "ear", "type": "nominal"}, "order": {"field": "i", "type": "quantitative"}}},
{"data": {"name": "electrodes"},
 "mark": {"type": "point", "shape": "circle", "filled": true, "fill": "#f4f4f4", "stroke": "#3a3a3a", "strokeWidth": 1.2, "size": 22, "opacity": 1}},
{"data": {"name": "electrodes"},
 "mark": {"type": "text", "dy": 26, "baseline": "alphabetic", "align": "center", "font": "Liberation Sans", "fontSize": 22, "color": "#262626"},
 "encoding": {"text": {"field": "name", "type": "nominal"}}}
]
}
